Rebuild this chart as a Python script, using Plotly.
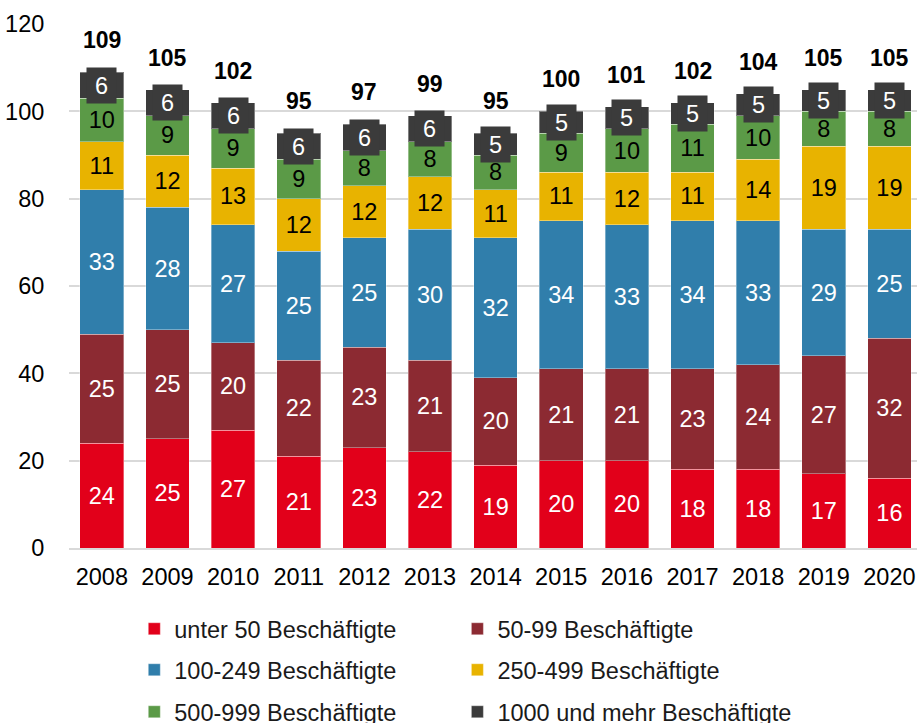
import plotly.graph_objects as go

years = ["2008", "2009", "2010", "2011", "2012", "2013", "2014",
         "2015", "2016", "2017", "2018", "2019", "2020"]
series_names = ["unter 50 Beschäftigte", "50-99 Beschäftigte", "100-249 Beschäftigte",
                "250-499 Beschäftigte", "500-999 Beschäftigte", "1000 und mehr Beschäftigte"]
unter50 = [24, 25, 27, 21, 23, 22, 19, 20, 20, 18, 18, 17, 16]
b50_99 = [25, 25, 20, 22, 23, 21, 20, 21, 21, 23, 24, 27, 32]
b100_249 = [33, 28, 27, 25, 25, 30, 32, 34, 33, 34, 33, 29, 25]
b250_499 = [11, 12, 13, 12, 12, 12, 11, 11, 12, 11, 14, 19, 19]
b500_999 = [10, 9, 9, 9, 8, 8, 8, 9, 10, 11, 10, 8, 8]
b1000plus = [6, 6, 6, 6, 6, 6, 5, 5, 5, 5, 5, 5, 5]
totals = [109, 105, 102, 95, 97, 99, 95, 100, 101, 102, 104, 105, 105]
y_ticks = [0, 20, 40, 60, 80, 100, 120]

colors = ["#E2001A", "#8C2A32", "#307EAB", "#E8B300", "#5B9A47", "#3B3B3B"]
text_colors = ["white", "white", "white", "black", "black", "white"]
series = [unter50, b50_99, b100_249, b250_499, b500_999, b1000plus]

FONT = "Liberation Sans, Arial, sans-serif"
FS = 23.5

# one legend per entry so the two-column grid can be placed exactly
legend_ids = ["legend", "legend2", "legend3", "legend4", "legend5", "legend6"]
legend_x = [0.077, 0.458]                     # columns (paper fraction)
legend_y = [(548 - 629) / 524, (548 - 670) / 524, (548 - 712) / 524]  # rows

fig = go.Figure()
for i, (name, vals) in enumerate(zip(series_names, series)):
    is_top = i == len(series) - 1
    fig.add_trace(go.Bar(
        x=years, y=vals, name=name,
        marker=dict(color=colors[i], line=dict(color="rgba(255,255,255,0.35)", width=1)),
        text=None if is_top else [str(v) for v in vals],
        textposition="inside", insidetextanchor="middle",
        textfont=dict(color=text_colors[i], size=FS, family=FONT),
        constraintext="none",
        legend=legend_ids[i],
        hoverinfo="skip",
    ))

annotations = []
for j, yr in enumerate(years):
    base = sum(s[j] for s in series[:-1])
    annotations.append(dict(
        x=j, y=base + b1000plus[j] / 2, xref="x", yref="y",
        text=str(b1000plus[j]), showarrow=False,
        font=dict(color="white", size=FS, family=FONT),
        bgcolor=colors[-1], width=29, height=35, borderpad=0,
    ))
    annotations.append(dict(
        x=j, y=totals[j], xref="x", yref="y",
        text="<b>%d</b>" % totals[j], showarrow=False,
        font=dict(color="black", size=23, family=FONT),
        yshift=32,
    ))

legend_layouts = {}
for i, lid in enumerate(legend_ids):
    legend_layouts[lid] = dict(
        orientation="h", xanchor="left", yanchor="middle",
        x=legend_x[i % 2], y=legend_y[i // 2],
        font=dict(size=FS, family=FONT, color="#1a1a1a"), bgcolor="rgba(0,0,0,0)",
    )

fig.update_layout(
    width=917, height=723,
    margin=dict(l=69, r=0, t=24, b=175, autoexpand=False),
    barmode="stack", bargap=0.335,
    plot_bgcolor="white", paper_bgcolor="white",
    font=dict(family=FONT, size=FS, color="black"),
    showlegend=True,
    xaxis=dict(
        range=[-0.5, 12.42], showgrid=False, showline=True, automargin=False,
        ticks="outside", ticklen=7, tickcolor="rgba(0,0,0,0)",
        linecolor="#D9D9D9", linewidth=2, tickfont=dict(size=FS, family=FONT, color="black"),
        fixedrange=True,
    ),
    yaxis=dict(
        range=[0, 120], tickvals=y_ticks, showgrid=True, gridcolor="#D9D9D9", gridwidth=2,
        zeroline=False, showline=False, ticks="outside", ticklen=19, tickcolor="rgba(0,0,0,0)",
        automargin=False,
        tickfont=dict(size=FS, family=FONT, color="black"),
        fixedrange=True,
    ),
    **legend_layouts,
)
for a in annotations:
    fig.add_annotation(**a)

fig.write_html(
    "out.html",
    config={"displayModeBar": False},
    post_script="document.body.style.margin='0';document.body.style.overflow='hidden';",
)
